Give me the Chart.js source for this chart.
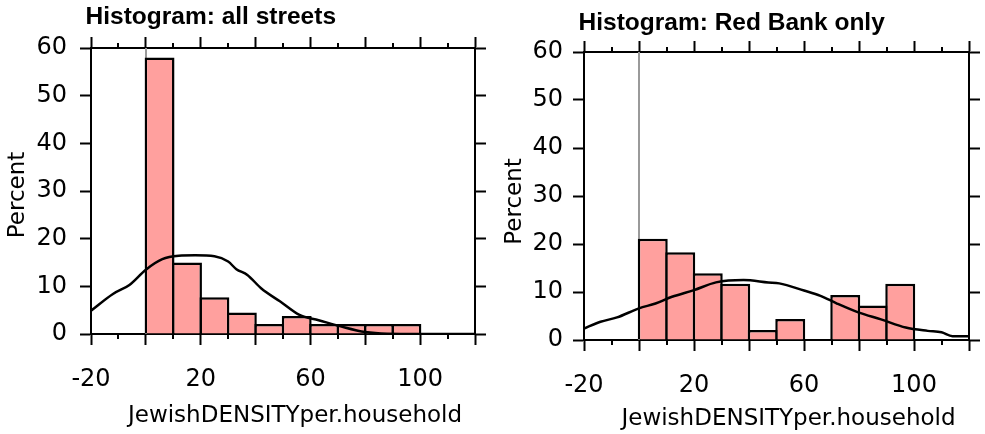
<!DOCTYPE html>
<html>
<head>
<meta charset="utf-8">
<script src="https://cdn.jsdelivr.net/npm/chart.js@4.4.1/dist/chart.umd.min.js"></script>
<style>
  html, body { margin: 0; padding: 0; background: #fff; }
  #wrap { position: relative; width: 985px; height: 434px; overflow: hidden; }
  canvas { position: absolute; top: 0; }
</style>
</head>
<body>
<div id="wrap">
  <canvas id="cAll" width="490" height="434" style="left:0px"></canvas>
  <canvas id="cRed" width="495" height="434" style="left:490px"></canvas>
</div>
<script>
// Histogram bins of JewishDENSITYper.household (width 10)
const binLo = [0, 10, 20, 30, 40, 50, 60, 70, 80, 90];
const binHi = [10, 20, 30, 40, 50, 60, 70, 80, 90, 100];

// Percent of streets falling in each bin
const pctAll     = [58.0, 15.0, 7.7, 4.5, 2.1, 3.8, 2.1, 2.1, 2.1, 2.1];
const pctRedBank = [21.1, 18.3, 13.9, 11.7, 2.1, 4.4, 0, 9.4, 7.2, 11.7];

// Smoothed density overlays, on the percent scale
const densAllX = [-20, -12, -6, 0, 6, 12, 18, 25, 30, 33, 37, 42, 49, 56, 63, 71, 80, 88, 100, 120];
const densAllY = [4.9, 8.4, 10.3, 13.5, 15.7, 16.4, 16.5, 16.3, 15.2, 13.6, 12.4, 9.6, 6.8, 4.0, 2.9, 1.6, 0.4, 0.05, 0, 0];
const densRedX = [-20, -14, -8, 0, 6, 12, 20, 28, 38, 47, 51, 60, 66, 72, 80, 88, 97, 105, 110, 114, 120];
const densRedY = [2.4, 3.8, 4.7, 6.6, 7.6, 9.0, 10.4, 12.0, 12.5, 12.0, 11.8, 10.3, 9.2, 7.6, 5.7, 4.3, 2.6, 1.9, 1.6, 0.8, 0.8];

// Axis ticks
const xMajorTicks = [-20, 0, 20, 40, 60, 80, 100, 120];
const xMinorTicks = [-10, 10, 30, 50, 70, 90, 110];
const xLabelled   = [-20, 20, 60, 100];
const yTicks      = [0, 10, 20, 30, 40, 50, 60];

const TICK_FONT  = { family: 'DejaVu Sans', size: 24 };
const BAR_FILL   = 'rgb(255,160,158)';

Chart.defaults.font.family = 'DejaVu Sans';
Chart.defaults.color = '#000';

// Layout of the two panels (canvas coordinates)
const panels = [
  {
    id: 'cAll', title: 'Histogram: all streets',
    pct: pctAll, densX: densAllX, densY: densAllY,
    area: { left: 91, right: 475, top: 48, bottom: 334 },
    titleBase: 24, xTitleBase: 422, yTitleX: 23.5, yTitleY: 195, yPad: 13
  },
  {
    id: 'cRed', title: 'Histogram: Red Bank only',
    pct: pctRedBank, densX: densRedX, densY: densRedY,
    area: { left: 94, right: 479, top: 52, bottom: 340 },
    titleBase: 29.5, xTitleBase: 425, yTitleX: 30.5, yTitleY: 201.5, yPad: 10
  }
];

function makePanel(p) {
  const canvas = document.getElementById(p.id);
  const W = canvas.width, H = canvas.height, A = p.area;

  const bars = binLo.map((lo, i) => ({ x: (lo + binHi[i]) / 2, y: p.pct[i] > 0 ? p.pct[i] : null }));
  const dens = p.densX.map((x, i) => ({ x: x, y: p.densY[i] }));

  const axisGrid = { offset: false, drawOnChartArea: false, drawTicks: true, tickLength: 11, tickWidth: 2, tickColor: '#000' };
  const axisBorder = { display: true, color: '#000', width: 2 };
  const setXTicks = s => { s.ticks = xMajorTicks.map(v => ({ value: v })); };
  const setYTicks = s => { s.ticks = yTicks.map(v => ({ value: v })); };
  const fitX = h => s => { s.height = h; s.paddingLeft = 0; s.paddingRight = 0; };
  const fitY = w => s => { s.width = w; s.paddingTop = 0; s.paddingBottom = 0; };

  // zero reference line, minor ticks and the panel's text
  const decor = {
    id: 'decor',
    beforeDatasetsDraw(chart) {
      const { ctx, chartArea: a, scales } = chart;
      const px = Math.round(scales.x.getPixelForValue(0));
      ctx.save();
      ctx.strokeStyle = '#9a9a9a';
      ctx.lineWidth = 2;
      ctx.beginPath();
      ctx.moveTo(px, a.top);
      ctx.lineTo(px, a.bottom);
      ctx.stroke();
      ctx.restore();
    },
    afterDraw(chart) {
      const { ctx, chartArea: a, scales } = chart;
      ctx.save();
      ctx.strokeStyle = '#000';
      ctx.lineWidth = 2;
      ctx.beginPath();
      xMinorTicks.forEach(v => {
        const px = Math.round(scales.x.getPixelForValue(v));
        ctx.moveTo(px, a.bottom);
        ctx.lineTo(px, a.bottom + 5);
        ctx.moveTo(px, a.top);
        ctx.lineTo(px, a.top - 5);
      });
      ctx.stroke();

      ctx.fillStyle = '#000';
      ctx.font = 'bold 24.5px "Liberation Sans", Arial, sans-serif';
      ctx.textAlign = 'left';
      ctx.textBaseline = 'alphabetic';
      ctx.fillText(p.title, a.left - 5.5, p.titleBase);

      ctx.font = '23px "DejaVu Sans", sans-serif';
      ctx.textAlign = 'center';
      ctx.fillText('JewishDENSITYper.household', (a.left + a.right) / 2 + 12, p.xTitleBase);

      ctx.translate(p.yTitleX, p.yTitleY);
      ctx.rotate(-Math.PI / 2);
      ctx.fillText('Percent', 0, 0);
      ctx.restore();
    }
  };

  return new Chart(canvas, {
    type: 'bar',
    data: {
      datasets: [
        {
          type: 'line', data: dens, xAxisID: 'x', yAxisID: 'y',
          borderColor: '#000', borderWidth: 2.5, pointRadius: 0,
          cubicInterpolationMode: 'monotone', fill: false, order: 0
        },
        {
          type: 'bar', data: bars, xAxisID: 'x', yAxisID: 'y',
          backgroundColor: BAR_FILL, borderColor: '#000', borderWidth: 2.5,
          borderSkipped: 'start', barPercentage: 1.09, categoryPercentage: 1, order: 1
        }
      ]
    },
    options: {
      responsive: false, animation: false, devicePixelRatio: 1,
      layout: { padding: 0 },
      plugins: { legend: { display: false }, tooltip: { enabled: false }, title: { display: false } },
      scales: {
        x: {
          type: 'linear', position: 'bottom', min: -20, max: 120, offset: false,
          afterBuildTicks: setXTicks,
          afterFit: fitX(H - A.bottom),
          grid: axisGrid, border: axisBorder,
          ticks: {
            font: TICK_FONT, color: '#000', padding: 20, maxRotation: 0, autoSkip: false,
            callback: v => xLabelled.includes(v) ? String(v) : ''
          }
        },
        xTop: {
          type: 'linear', position: 'top', min: -20, max: 120, offset: false,
          afterBuildTicks: setXTicks,
          afterFit: fitX(A.top),
          grid: axisGrid, border: axisBorder,
          ticks: { display: false }
        },
        y: {
          type: 'linear', position: 'left', min: 0, max: 60, offset: false,
          afterBuildTicks: setYTicks,
          afterFit: fitY(A.left),
          grid: axisGrid, border: axisBorder,
          ticks: { font: TICK_FONT, color: '#000', padding: p.yPad }
        },
        yRight: {
          type: 'linear', position: 'right', min: 0, max: 60, offset: false,
          afterBuildTicks: setYTicks,
          afterFit: fitY(W - A.right),
          grid: axisGrid, border: axisBorder,
          ticks: { display: false }
        }
      }
    },
    plugins: [decor]
  });
}

panels.forEach(makePanel);
</script>
</body>
</html>
